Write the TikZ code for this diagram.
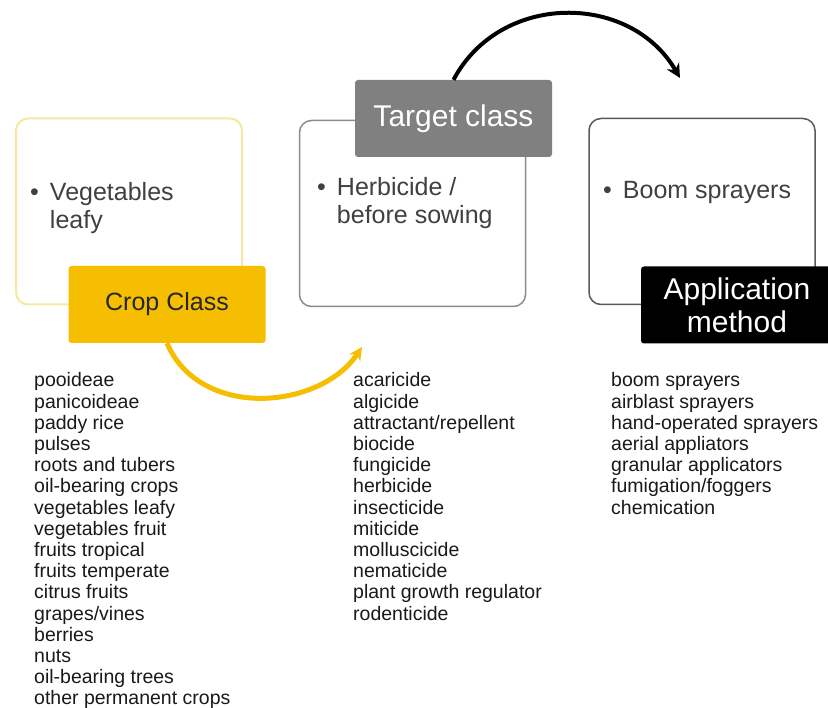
\documentclass[tikz,border=0pt]{standalone}
\usepackage{fontspec}
\setmainfont{Liberation Sans}
\usetikzlibrary{arrows.meta,positioning}
\definecolor{amber}{RGB}{245,190,0}
\definecolor{paleamber}{RGB}{246,232,160}
\definecolor{labelgray}{RGB}{128,128,128}
\definecolor{boxgray}{RGB}{140,140,140}
\definecolor{textgray}{RGB}{64,64,64}

\begin{document}
\begin{tikzpicture}[x=1pt,y=-1pt,
	classbox/.style={draw=boxgray,line width=1.5pt,fill=white,rounded corners=12pt,minimum width=226pt,minimum height=186pt},
	classlabel/.style={rounded corners=3pt,minimum width=197pt,minimum height=77pt,inner sep=2pt,align=center},
	itemtext/.style={anchor=base west,inner sep=0pt,text=textgray,font=\fontsize{25}{28}\selectfont},
	listtext/.style={anchor=base west,inner sep=0pt,text=black!90,font=\fontsize{19.5}{21.2}\selectfont}]
		
		\useasboundingbox (0,0) rectangle (828,708);
		
		% the three class boxes
		\node[classbox,draw=paleamber,line width=2pt] (cropbox) at (129,211.5) {};
		
		\node[classbox] (targetbox) at (412.5,213.5) {};
		
		\node[classbox,draw=black!65] (methodbox) at (702,211.5) {};
		
		% the items inside the boxes
		\node[itemtext] (cropitem) at (30,201) {\begin{tabular}[t]{@{}l@{\hspace{11pt}}l@{}}\textbullet & Vegetables\\ & leafy\end{tabular}};
		
		\node[itemtext] (targetitem) at (317,196) {\begin{tabular}[t]{@{}l@{\hspace{11pt}}l@{}}\textbullet & Herbicide /\\ & before sowing\end{tabular}};
		
		\node[itemtext] (methoditem) at (603,199) {\begin{tabular}[t]{@{}l@{\hspace{11pt}}l@{}}\textbullet & Boom sprayers\end{tabular}};
		
		% the labels on top of the boxes
		\node[classlabel,fill=amber,text=black!85,font=\fontsize{25}{28}\selectfont] (croplabel) at (167,304.5) {Crop Class};
		
		\node[classlabel,fill=labelgray,text=white,font=\fontsize{30}{33}\selectfont] (targetlabel) at (453.5,118.5) {Target class};
		
		\node[classlabel,fill=black,text=white,minimum width=192pt,font=\fontsize{30}{33}\selectfont] (methodlabel) at (737,305) {Application\\method};
		
		% the lists below
		\node[listtext] (croplist) at (34,387) {\begin{tabular}[t]{@{}l@{}}pooideae\\panicoideae\\paddy rice\\pulses\\roots and tubers\\oil-bearing crops\\vegetables leafy\\vegetables fruit\\fruits tropical\\fruits temperate\\citrus fruits\\grapes/vines\\berries\\nuts\\oil-bearing trees\\other permanent crops\end{tabular}};
		
		\node[listtext] (targetlist) at (353,387) {\begin{tabular}[t]{@{}l@{}}acaricide\\algicide\\attractant/repellent\\biocide\\fungicide\\herbicide\\insecticide\\miticide\\molluscicide\\nematicide\\plant growth regulator\\rodenticide\end{tabular}};
		
		\node[listtext] (methodlist) at (611,387) {\begin{tabular}[t]{@{}l@{}}boom sprayers\\airblast sprayers\\hand-operated sprayers\\aerial appliators\\granular applicators\\fumigation/foggers\\chemication\end{tabular}};
		
		% the two arcs
		\coordinate (targettip) at (362,347);
		\coordinate (methodtip) at (680,78);
		
		\draw[-{Stealth[length=13pt,width=13pt]},amber,line width=5pt] (croplabel.south) .. controls (200,420) and (320,410) .. (targettip);
		\draw[-{Stealth[length=14pt,width=14pt]},black,line width=4pt] (targetlabel.north) .. controls (500,-8) and (630,-8) .. (methodtip);
		
	\end{tikzpicture}
\end{document}
